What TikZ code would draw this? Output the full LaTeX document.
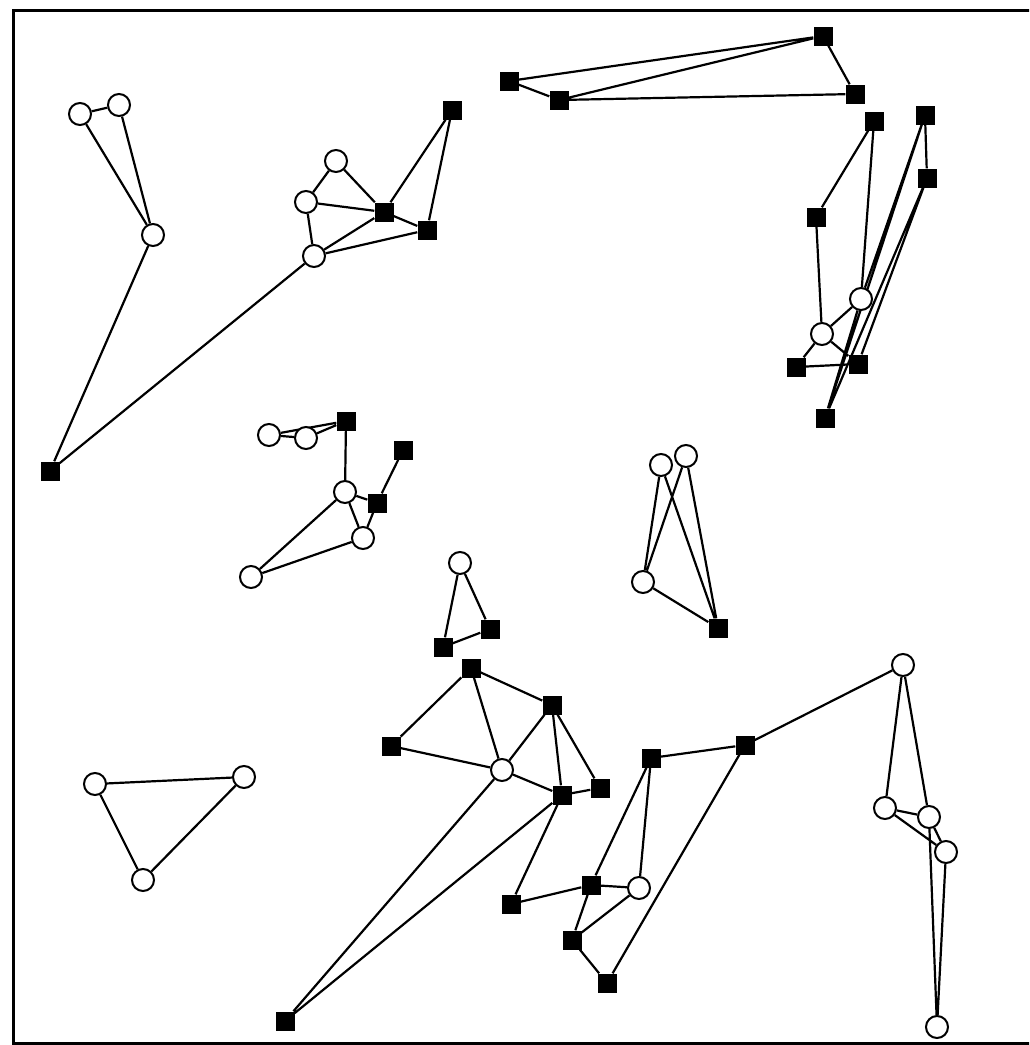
\documentclass[tikz,border=0pt]{standalone}
\usepackage{tikz}
\pgfdeclarelayer{back}
\pgfsetlayers{back,main}
\tikzset{
  wnode/.style={circle,draw=black,fill=white,line width=2pt,minimum size=22pt,inner sep=0pt},
  bnode/.style={rectangle,fill=black,minimum size=19pt,inner sep=0pt},
  edge/.style={black,line width=2.2pt}
}
\begin{document}
\begin{tikzpicture}[x=1pt,y=-1pt]
\useasboundingbox (0,0) rectangle (1029,1045);
\begin{scope}
\clip (0,0) rectangle (1029,1045);
\draw[black,line width=3pt] (13,10.5) rectangle (1080,1043);
\end{scope}
% objects at depth 50: white nodes
\node[wnode] (w1) at (80,114) {};
\node[wnode] (w2) at (119,105) {};
\node[wnode] (w3) at (153,235) {};
\node[wnode] (w4) at (336,161) {};
\node[wnode] (w5) at (306,202) {};
\node[wnode] (w6) at (314,256) {};
\node[wnode] (w7) at (861,299) {};
\node[wnode] (w8) at (822,334) {};
\node[wnode] (w9) at (269,435) {};
\node[wnode] (w10) at (306,438) {};
\node[wnode] (w11) at (345,492) {};
\node[wnode] (w12) at (363,538) {};
\node[wnode] (w13) at (251,577) {};
\node[wnode] (w14) at (460,563) {};
\node[wnode] (w15) at (661,465) {};
\node[wnode] (w16) at (686,456) {};
\node[wnode] (w17) at (643,582) {};
\node[wnode] (w18) at (502,770) {};
\node[wnode] (w19) at (639,888) {};
\node[wnode] (w20) at (903,665) {};
\node[wnode] (w21) at (885,808) {};
\node[wnode] (w22) at (929,817) {};
\node[wnode] (w23) at (946,852) {};
\node[wnode] (w24) at (937,1027) {};
\node[wnode] (w25) at (95,784) {};
\node[wnode] (w26) at (244,777) {};
\node[wnode] (w27) at (143,880) {};
% objects at depth 50: black nodes
\node[bnode] (b1) at (50,471) {};
\node[bnode] (b2) at (384,212) {};
\node[bnode] (b3) at (427,230) {};
\node[bnode] (b4) at (452,110) {};
\node[bnode] (b5) at (509,81) {};
\node[bnode] (b6) at (559,100) {};
\node[bnode] (b7) at (823,36) {};
\node[bnode] (b8) at (855,94) {};
\node[bnode] (b9) at (874,121) {};
\node[bnode] (b10) at (925,115) {};
\node[bnode] (b11) at (927,178) {};
\node[bnode] (b12) at (816,217) {};
\node[bnode] (b13) at (796,367) {};
\node[bnode] (b14) at (858,364) {};
\node[bnode] (b15) at (825,418) {};
\node[bnode] (b16) at (346,421) {};
\node[bnode] (b17) at (403,450) {};
\node[bnode] (b18) at (377,503) {};
\node[bnode] (b19) at (443,647) {};
\node[bnode] (b20) at (490,629) {};
\node[bnode] (b21) at (718,628) {};
\node[bnode] (b22) at (471,668) {};
\node[bnode] (b23) at (552,705) {};
\node[bnode] (b24) at (391,746) {};
\node[bnode] (b25) at (562,795) {};
\node[bnode] (b26) at (600,788) {};
\node[bnode] (b27) at (285,1021) {};
\node[bnode] (b28) at (511,904) {};
\node[bnode] (b29) at (651,758) {};
\node[bnode] (b30) at (591,885) {};
\node[bnode] (b31) at (572,940) {};
\node[bnode] (b32) at (607,983) {};
\node[bnode] (b33) at (745,745) {};
% objects at depth 100: edges
\begin{pgfonlayer}{back}
\draw[edge] (w1) -- (w2) (w1) -- (w3) (w2) -- (w3) (w3) -- (b1);
\draw[edge] (w4) -- (w5) (w4) -- (b2) (w5) -- (b2) (w5) -- (w6) (w6) -- (b2)
  (w6) -- (b3) (b2) -- (b3) (b2) -- (b4) (b3) -- (b4) (w6) -- (b1);
\draw[edge] (b5) -- (b6) (b5) -- (b7) (b6) -- (b7) (b6) -- (b8) (b7) -- (b8);
\draw[edge] (b9) -- (b12) (b9) -- (w7) (b10) -- (b11) (b12) -- (w8) (w7) -- (w8)
  (w8) -- (b13) (w8) -- (b14) (b13) -- (b14) (b10) -- (w7) (b10) -- (b15)
  (b11) -- (b14) (b11) -- (b15) (w7) -- (b15);
\draw[edge] (w9) -- (w10) (w9) -- (b16) (w10) -- (b16) (b16) -- (w11) (w11) -- (b18)
  (b17) -- (b18) (w11) -- (w12) (b18) -- (w12) (w11) -- (w13) (w12) -- (w13);
\draw[edge] (w14) -- (b19) (w14) -- (b20) (b19) -- (b20);
\draw[edge] (w15) -- (w17) (w16) -- (w17) (w15) -- (b21) (w16) -- (b21) (w17) -- (b21);
\draw[edge] (b22) -- (b23) (b22) -- (b24) (b22) -- (w18) (b24) -- (w18) (w18) -- (b23)
  (w18) -- (b25) (b23) -- (b25) (b23) -- (b26) (b25) -- (b26)
  (w18) -- (b27) (b25) -- (b27) (b25) -- (b28);
\draw[edge] (b28) -- (b30) (b30) -- (w19) (b29) -- (b30) (b29) -- (w19) (b30) -- (b31)
  (w19) -- (b31) (b31) -- (b32) (b32) -- (b33) (b29) -- (b33) (b33) -- (w20);
\draw[edge] (w20) -- (w21) (w20) -- (w22) (w21) -- (w22) (w21) -- (w23) (w22) -- (w23)
  (w22) -- (w24) (w23) -- (w24);
\draw[edge] (w25) -- (w26) (w25) -- (w27) (w26) -- (w27);
\end{pgfonlayer}
\end{tikzpicture}
\end{document}
